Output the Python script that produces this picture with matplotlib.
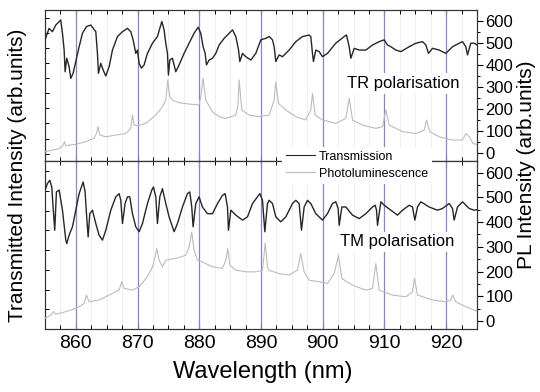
import matplotlib
matplotlib.use('Agg')
import matplotlib.pyplot as plt
from matplotlib.ticker import MultipleLocator
from matplotlib.lines import Line2D

plt.rcParams['font.family'] = ['Liberation Sans', 'DejaVu Sans']

# ---------------- data ----------------
# TR polarisation, transmission
tr_trans_wl = [855.0, 855.66, 856.2, 856.75, 857.55, 857.83, 858.1, 858.26, 858.53, 858.9,
               859.18, 859.55, 859.99, 860.53, 861.07, 861.72, 862.42, 863.23, 863.5, 863.66,
               864.04, 864.42, 864.85, 865.39, 865.93, 866.74, 867.55, 868.36, 868.9, 869.28,
               869.71, 869.98, 870.25, 870.63, 871.06, 871.6, 872.41, 873.22, 873.76, 873.93,
               874.3, 874.57, 874.84, 875.0, 875.22, 875.65, 876.19, 876.73, 877.54, 878.35,
               879.16, 879.81, 880.24, 880.62, 880.95, 881.16, 881.6, 882.14, 882.68, 883.22,
               884.03, 884.84, 885.38, 885.92, 886.36, 886.57, 887.0, 887.54, 888.35, 889.16,
               889.97, 890.78, 891.32, 891.86, 892.13, 892.4, 892.94, 893.48, 894.56, 895.64,
               896.72, 897.8, 898.07, 898.34, 898.5, 898.88, 899.42, 899.96, 900.77, 902.12,
               903.48, 903.85, 904.29, 904.56, 905.1, 905.91, 906.99, 908.07, 909.15, 909.96,
               910.5, 911.04, 911.85, 912.66, 914.01, 915.09, 916.17, 916.71, 917.14, 917.79,
               918.87, 919.95, 921.03, 922.11, 922.65, 923.19, 923.46, 924.0, 924.54, 925.0]
tr_trans = [513, 565, 550, 580, 603, 543, 467, 369, 430, 392,
            339, 362, 415, 482, 543, 573, 580, 550, 452, 362,
            407, 377, 350, 392, 467, 528, 550, 565, 550, 513,
            452, 467, 407, 385, 400, 452, 498, 528, 580, 596,
            558, 498, 452, 354, 422, 430, 369, 400, 452, 498,
            543, 570, 543, 482, 452, 400, 422, 430, 452, 490,
            520, 543, 558, 528, 467, 415, 452, 437, 422, 452,
            513, 520, 528, 513, 482, 415, 445, 437, 467, 505,
            528, 535, 528, 452, 415, 467, 460, 437, 452, 498,
            528, 535, 482, 430, 475, 467, 467, 490, 505, 513,
            490, 482, 467, 460, 482, 498, 505, 490, 452, 475,
            467, 452, 482, 498, 505, 482, 445, 498, 498, 490]

# TR polarisation, photoluminescence
tr_pl_wl = [855.0, 857.29, 857.83, 858.15, 858.37, 859.99, 861.61, 862.96, 863.34, 863.61,
            863.88, 864.85, 866.47, 868.09, 868.9, 869.17, 869.44, 869.98, 871.33, 872.95,
            874.03, 874.57, 874.9, 875.22, 875.65, 876.73, 878.35, 879.97, 880.24, 880.62,
            881.05, 882.14, 883.22, 884.3, 885.92, 886.25, 886.46, 886.89, 888.08, 889.7,
            891.32, 892.13, 892.4, 892.83, 894.02, 895.64, 897.26, 898.07, 898.34, 898.78,
            899.96, 902.12, 903.75, 904.29, 904.83, 906.45, 908.61, 909.69, 910.23, 910.77,
            912.93, 915.09, 916.44, 916.82, 917.36, 918.87, 921.03, 922.65, 923.19, 923.73,
            924.38, 925.0]
tr_pl = [7, 22, 33, 53, 35, 41, 53, 68, 90, 121,
         83, 75, 83, 90, 113, 173, 128, 124, 136, 173,
         211, 241, 332, 256, 241, 229, 223, 219, 256, 339,
         241, 188, 166, 158, 173, 211, 332, 196, 173, 166,
         173, 241, 324, 226, 196, 166, 151, 196, 271, 173,
         151, 136, 158, 249, 151, 128, 113, 121, 196, 128,
         98, 90, 105, 151, 98, 75, 60, 60, 90, 75,
         45, 40]

# TM polarisation, transmission
tm_trans_wl = [855.0, 855.4, 855.77, 856.1, 856.31, 856.58, 856.85, 857.29, 857.83, 858.37,
               858.53, 858.9, 859.45, 859.99, 860.53, 861.18, 861.5, 861.72, 861.99, 862.26,
               862.69, 863.23, 863.77, 864.31, 864.85, 865.66, 866.47, 867.01, 867.28, 867.55,
               867.98, 868.36, 868.74, 869.17, 869.71, 870.25, 870.79, 871.6, 872.3, 872.57,
               872.95, 873.22, 873.6, 874.03, 874.57, 875.11, 875.92, 876.46, 877.27, 878.08,
               878.46, 878.78, 879.0, 879.43, 879.97, 880.51, 881.32, 882.14, 882.95, 883.76,
               884.19, 884.57, 884.73, 885.11, 885.92, 887.0, 887.81, 888.62, 889.43, 889.81,
               890.24, 890.62, 891.05, 891.32, 891.86, 892.4, 893.21, 894.02, 895.1, 895.64,
               896.18, 896.56, 896.99, 897.53, 898.07, 898.88, 899.96, 900.77, 901.58, 902.12,
               902.5, 902.67, 903.1, 903.75, 904.83, 905.91, 906.99, 908.07, 908.5, 908.72,
               908.88, 909.42, 909.96, 911.04, 912.12, 912.93, 914.01, 914.55, 914.93, 915.36,
               915.9, 917.25, 918.6, 919.41, 920.49, 921.03, 921.3, 921.84, 922.65, 923.73,
               924.54, 925.0]
tm_trans = [529, 556, 569, 542, 461, 367, 522, 529, 448, 327,
            313, 347, 381, 448, 515, 562, 522, 434, 340, 434,
            448, 394, 347, 327, 367, 448, 502, 515, 488, 394,
            475, 502, 502, 434, 381, 361, 394, 475, 529, 542,
            502, 394, 502, 535, 475, 421, 361, 394, 461, 515,
            522, 461, 381, 475, 502, 461, 434, 434, 475, 508,
            515, 461, 367, 448, 428, 408, 421, 475, 502, 515,
            488, 361, 475, 488, 475, 421, 401, 421, 475, 488,
            475, 367, 461, 488, 475, 434, 408, 434, 475, 482,
            455, 387, 461, 461, 428, 414, 434, 461, 468, 448,
            387, 482, 468, 448, 428, 448, 468, 461, 408, 461,
            482, 461, 448, 455, 475, 455, 408, 461, 482, 455,
            448, 450]

# TM polarisation, photoluminescence
tm_pl_wl = [855.0, 855.93, 856.37, 856.74, 858.37, 859.99, 861.34, 861.72, 862.15, 863.77,
            865.93, 867.01, 867.44, 867.82, 869.17, 870.25, 871.6, 872.41, 872.84, 873.11,
            873.49, 874.03, 874.57, 876.19, 877.81, 878.35, 878.78, 879.16, 879.7, 880.51,
            882.14, 883.76, 884.3, 884.62, 884.95, 885.92, 887.54, 889.16, 890.24, 890.68,
            891.05, 891.32, 892.94, 894.56, 895.91, 896.45, 896.99, 897.8, 899.42, 900.77,
            901.85, 902.56, 903.1, 904.83, 906.99, 908.07, 908.61, 909.15, 911.31, 913.47,
            914.55, 914.87, 915.36, 917.79, 919.95, 920.76, 921.03, 921.57, 923.19, 924.54,
            925.0]
tm_pl = [11, 24, 38, 28, 38, 51, 71, 105, 78, 85,
         112, 125, 159, 132, 125, 139, 179, 219, 260, 293,
         246, 219, 246, 253, 266, 300, 360, 287, 246, 239,
         219, 213, 246, 293, 226, 206, 199, 199, 206, 315,
         220, 205, 192, 186, 206, 273, 199, 165, 159, 152,
         192, 266, 172, 145, 125, 132, 233, 125, 105, 98,
         118, 172, 105, 85, 78, 85, 105, 78, 58, 44,
         40]

marker_wl = [860, 870, 880, 890, 900, 910, 920]
panel_labels = ['TR polarisation', 'TM polarisation']
legend_labels = ['Transmission', 'Photoluminescence']

# ---------------- figure ----------------
fig = plt.figure(figsize=(5.4, 3.92), dpi=100)
W, H = 540.0, 392.0
L, R = 45 / W, 477 / W
top_box = [L, 1 - 160.7 / H, R - L, (160.7 - 10) / H]
bot_box = [L, 1 - 329 / H, R - L, (329 - 160.7) / H]

trans_col = '#262626'
pl_col = '#bcbcbc'
blue = '#8585c8'

def make_panel(box, wl_t, t, wl_p, p, ylim, left_ylim, label, label_pos, bottom):
    base = fig.add_axes(box)
    base.set_xlim(855, 925)
    base.set_ylim(*left_ylim)
    base.xaxis.set_major_locator(MultipleLocator(10))
    base.xaxis.set_minor_locator(MultipleLocator(2.5))
    base.yaxis.set_major_locator(MultipleLocator(1))
    base.tick_params(axis='x', which='both', direction='in', top=True, bottom=True,
                     labelbottom=bottom, labelsize=14, pad=4)
    base.tick_params(axis='x', which='major', length=4, width=0.8)
    base.tick_params(axis='x', which='minor', length=3, width=0.7)
    base.tick_params(axis='y', which='both', direction='in', left=True, right=False,
                     labelleft=False, length=3, width=0.7)
    base.grid(which='minor', axis='x', color='#ededed', lw=0.6)
    base.set_axisbelow(True)
    for w in marker_wl:
        base.axvline(w, color=blue, lw=0.9, zorder=1)
    for s in base.spines.values():
        s.set_linewidth(0.8)
        s.set_color('#333333')

    ax = base.twinx()
    ax.set_ylim(*ylim)
    ax.yaxis.set_major_locator(MultipleLocator(100))
    ax.yaxis.set_minor_locator(MultipleLocator(50))
    ax.tick_params(axis='y', which='both', direction='out', right=True, left=False,
                   labelright=True, labelsize=12, pad=2)
    ax.tick_params(axis='y', which='major', length=4, width=0.8)
    ax.tick_params(axis='y', which='minor', length=2.5, width=0.7)
    for s in ax.spines.values():
        s.set_linewidth(0.8)
        s.set_color('#333333')
    ax.plot(wl_p, p, color=pl_col, lw=0.8, zorder=3)
    ax.plot(wl_t, t, color=trans_col, lw=1.0, zorder=4)
    ax.text(label_pos[0], label_pos[1], label, fontsize=12, ha='center', va='center',
            zorder=6, bbox=dict(facecolor='white', edgecolor='none', pad=2))
    return base, ax

make_panel(top_box, tr_trans_wl, tr_trans, tr_pl_wl, tr_pl, (-33, 648), (-0.47, 9.53),
           panel_labels[0], (913.0, 317), False)
make_panel(bot_box, tm_trans_wl, tm_trans, tm_pl_wl, tm_pl, (-32, 648), (0, 8.53),
           panel_labels[1], (912.1, 320), True)

fig.text(263 / W, 1 - 372 / H, 'Wavelength (nm)', fontsize=17, ha='center', va='center')
fig.text(18 / W, 1 - 175 / H, 'Transmitted Intensity (arb.units)', fontsize=15,
         rotation=90, ha='center', va='center')
fig.text(527 / W, 1 - 165 / H, 'PL Intensity (arb.units)', fontsize=15,
         rotation=90, ha='center', va='center')

handles = [Line2D([], [], color=trans_col, lw=0.8), Line2D([], [], color=pl_col, lw=0.8)]
leg = fig.legend(handles, legend_labels, loc='upper left',
                 bbox_to_anchor=(282 / W, 1 - 147 / H), borderaxespad=0, fontsize=9,
                 frameon=True, fancybox=False, handlelength=2.3, handletextpad=0.35,
                 labelspacing=0.4, borderpad=0.3)
leg.get_frame().set_facecolor('white')
leg.get_frame().set_edgecolor('none')
leg.get_frame().set_alpha(1)

fig.savefig('out.png', dpi=100)
